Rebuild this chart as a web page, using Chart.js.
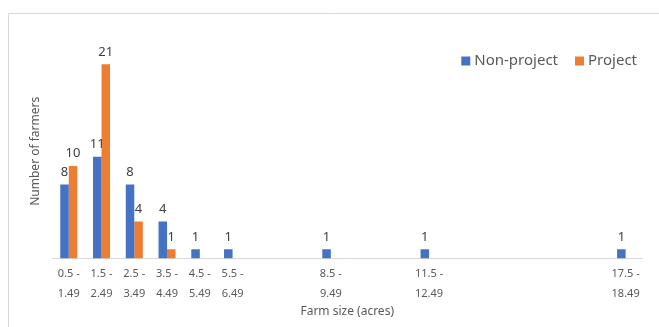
<!DOCTYPE html>
<html>
<head>
<meta charset="utf-8">
<script src="https://cdn.jsdelivr.net/npm/chart.js@4/dist/chart.umd.min.js"></script>
<style>
  html, body { margin: 0; padding: 0; background: #fff; }
</style>
</head>
<body>
<canvas id="farmChart" width="659" height="327"></canvas>
<script>
// farm size bins, one per acre from 0.5 to 17.5; bins with no farms have no label
const categories = [
  ["0.5 -", "1.49"], ["1.5 -", "2.49"], ["2.5 -", "3.49"], ["3.5 -", "4.49"],
  ["4.5 -", "5.49"], ["5.5 -", "6.49"], "", "", ["8.5 -", "9.49"], "", "",
  ["11.5 -", "12.49"], "", "", "", "", "", ["17.5 -", "18.49"]
];
const nonProject = [8, 11, 8, 4, 1, 1, null, null, 1, null, null, 1, null, null, null, null, null, 1];
const project = [10, 21, 4, 1, null, null, null, null, null, null, null, null, null, null, null, null, null, null];

const textGrey = "#595959";
const font = "'Noto Sans', 'Open Sans', sans-serif";

const frame = {
  id: "frame",
  beforeDraw(chart) {
    const c = chart.ctx;
    c.save();
    c.strokeStyle = "#d9d9d9";
    c.lineWidth = 1;
    c.beginPath();
    c.moveTo(8.5, chart.height);
    c.lineTo(8.5, 13.5);
    c.lineTo(chart.width, 13.5);
    c.stroke();
    c.restore();
  }
};

// legend drawn top-right inside the plot, like the Excel original
const cornerLegend = {
  id: "cornerLegend",
  afterDraw(chart) {
    const c = chart.ctx;
    const box = 9, gap = 4, itemGap = 17;
    const right = chart.chartArea.right - 5;
    const cy = 61;
    c.save();
    c.font = "15px " + font;
    c.textBaseline = "middle";
    const items = chart.data.datasets.map(ds => ({
      text: ds.label, color: ds.backgroundColor, w: box + gap + c.measureText(ds.label).width
    }));
    let x = right - items.reduce((s, it) => s + it.w, 0) - itemGap * (items.length - 1);
    items.forEach(it => {
      c.fillStyle = it.color;
      c.fillRect(x, cy - box / 2, box, box);
      c.fillStyle = textGrey;
      c.fillText(it.text, x + box + gap, cy);
      x += it.w + itemGap;
    });
    c.restore();
  }
};

const valueLabels = {
  id: "valueLabels",
  afterDatasetsDraw(chart) {
    const c = chart.ctx;
    c.save();
    c.fillStyle = "#404040";
    c.font = "13px " + font;
    c.textAlign = "center";
    c.textBaseline = "bottom";
    chart.data.datasets.forEach((ds, i) => {
      chart.getDatasetMeta(i).data.forEach((bar, j) => {
        if (ds.data[j] == null) return;
        c.fillText(ds.data[j], bar.x, bar.y - 6);
      });
    });
    c.restore();
  }
};

new Chart(document.getElementById("farmChart").getContext("2d"), {
  type: "bar",
  data: {
    labels: categories,
    datasets: [
      { label: "Non-project", data: nonProject, backgroundColor: "#4472C4" },
      { label: "Project", data: project, backgroundColor: "#ED7D31" }
    ]
  },
  options: {
    responsive: false,
    animation: false,
    categoryPercentage: 0.52,
    barPercentage: 1,
    layout: { padding: { left: 28, right: 17, top: 44, bottom: 8 } },
    plugins: {
      tooltip: { enabled: false },
      legend: { display: false }
    },
    scales: {
      x: {
        grid: { display: false, drawTicks: false },
        border: { color: "#d9d9d9" },
        ticks: {
          autoSkip: false,
          maxRotation: 0,
          padding: 5,
          color: textGrey,
          font: { family: font, size: 11, lineHeight: 1.82 }
        },
        title: {
          display: true,
          text: "Farm size (acres)",
          color: textGrey,
          padding: { top: -4, bottom: 0 },
          font: { family: font, size: 12 }
        }
      },
      y: {
        beginAtZero: true,
        max: 23.2,
        grid: { display: false, drawTicks: false },
        border: { display: false },
        ticks: { display: false },
        title: {
          display: true,
          text: "Number of farmers",
          color: textGrey,
          padding: { top: 0, bottom: 10 },
          font: { family: font, size: 12 }
        }
      }
    }
  },
  plugins: [frame, cornerLegend, valueLabels]
});
</script>
</body>
</html>
